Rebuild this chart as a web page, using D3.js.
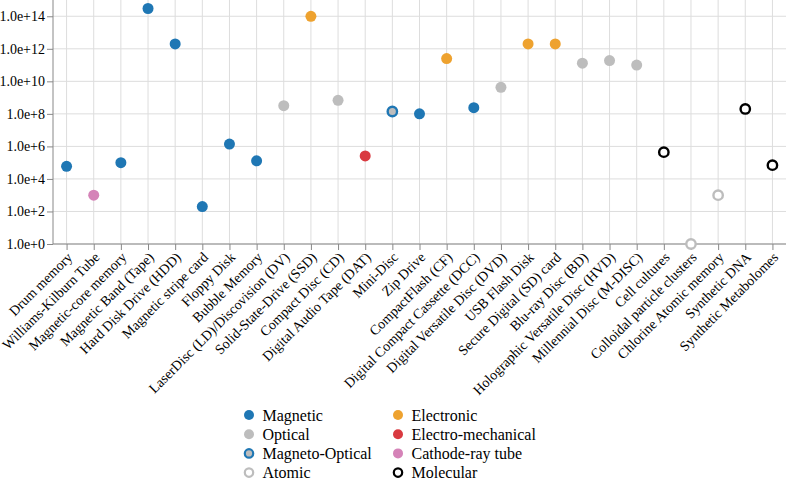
<!DOCTYPE html>
<html><head><meta charset="utf-8">
<script src="https://cdn.jsdelivr.net/npm/d3@7"></script>
<style>
html,body{margin:0;padding:0;background:#fff;}
svg{display:block;}
svg text{font-family:"Liberation Serif","Times New Roman",Times,serif;}
</style></head>
<body><svg id="chart" width="787" height="481"></svg>
<script>
const categories = ["Drum memory","Williams-Kilburn Tube","Magnetic-core memory","Magnetic Band (Tape)","Hard Disk Drive (HDD)","Magnetic stripe card","Floppy Disk","Bubble Memory","LaserDisc (LD)/Discovision (DV)","Solid-State-Drive (SSD)","Compact Disc (CD)","Digital Audio Tape (DAT)","Mini-Disc","Zip Drive","CompactFlash (CF)","Digital Compact Cassette (DCC)","Digital Versatile Disc (DVD)","USB Flash Disk","Secure Digital (SD) card","Blu-ray Disc (BD)","Holographic Versatile Disc (HVD)","Millennial Disc (M-DISC)","Cell cultures","Colloidal particle clusters","Chlorine Atomic memory","Synthetic DNA","Synthetic Metabolomes"];
const types = ["Magnetic","Cathode-ray tube","Magnetic","Magnetic","Magnetic","Magnetic","Magnetic","Magnetic","Optical","Electronic","Optical","Electro-mechanical","Magneto-Optical","Magnetic","Electronic","Magnetic","Optical","Electronic","Electronic","Optical","Optical","Optical","Molecular","Atomic","Atomic","Molecular","Molecular"];
const values = [6e4,1e3,1e5,3e14,2e12,200,1.4e6,1.3e5,3.2e8,1e14,6.8e8,2.6e5,1.4e8,1e8,2.5e11,2.4e8,4.3e9,2e12,2e12,1.3e11,1.9e11,1e11,4.4e5,1,1e3,2e8,7e4];
const yTicks = [1,1e2,1e4,1e6,1e8,1e10,1e12,1e14];
const legendOrder = ["Magnetic","Optical","Magneto-Optical","Atomic","Electronic","Electro-mechanical","Cathode-ray tube","Molecular"];
const fillColors = {"Magnetic":"#1f77b4","Optical":"#bdbdbd","Magneto-Optical":"#bdbdbd","Atomic":"#ffffff","Electronic":"#eea22f","Electro-mechanical":"#d93a40","Cathode-ray tube":"#d583b8","Molecular":"#ffffff"};
const strokeColors = {"Magneto-Optical":"#1f77b4","Atomic":"#bdbdbd","Molecular":"#000000"};

const FONT = '"Liberation Serif","Times New Roman",Times,serif';
const svg = d3.select("#chart");
const plotLeft = 53, plotTop = 0, plotBottom = 244, plotRight = 786;
const x = d3.scalePoint().domain(categories).range([plotLeft, plotRight]).padding(0.5);
const y = d3.scaleLog().domain([1, 1e15]).range([plotBottom, plotTop]);

const g = svg.append("g");
g.selectAll(".vg").data(categories).join("line")
  .attr("x1", d => x(d)).attr("x2", d => x(d)).attr("y1", plotTop).attr("y2", plotBottom)
  .attr("stroke", "#ddd").attr("stroke-width", 1);
g.selectAll(".hg").data(yTicks).join("line")
  .attr("x1", plotLeft).attr("x2", plotRight).attr("y1", d => y(d)).attr("y2", d => y(d))
  .attr("stroke", "#ddd").attr("stroke-width", 1);

const yAxis = d3.axisLeft(y).tickValues(yTicks).tickSize(6).tickPadding(2)
  .tickFormat(d3.format(".1e"));
const ya = svg.append("g").attr("transform", `translate(${plotLeft},0)`).call(yAxis)
  .attr("font-family", FONT).attr("font-size", 14);
ya.selectAll("text").attr("fill", "#000");
ya.selectAll("line,path").attr("stroke", "#888");
ya.select(".domain").attr("d", `M0,${plotTop}V${plotBottom}`);

const xAxis = d3.axisBottom(x).tickSize(6).tickPadding(2);
const xa = svg.append("g").attr("transform", `translate(0,${plotBottom})`).call(xAxis)
  .attr("font-family", FONT).attr("font-size", 14);
xa.selectAll("line,path").attr("stroke", "#888");
xa.select(".domain").attr("d", `M${plotLeft},0H${plotRight}`);
xa.selectAll("text").attr("fill", "#000")
  .attr("text-anchor", "end").attr("y", 0).attr("dy", "0.32em")
  .attr("transform", "translate(3,11) rotate(-45)");

const data = categories.map((c, i) => ({c, t: types[i], v: values[i]}));
svg.append("g").selectAll("circle").data(data).join("circle")
  .attr("cx", d => x(d.c)).attr("cy", d => y(d.v))
  .attr("r", d => strokeColors[d.t] ? 4.7 : 5.5)
  .attr("fill", d => fillColors[d.t])
  .attr("stroke", d => strokeColors[d.t] || "none")
  .attr("stroke-width", d => strokeColors[d.t] ? 2.4 : 0);

const lg = svg.append("g").attr("font-family", FONT).attr("font-size", 16);
legendOrder.forEach((t, i) => {
  const col = Math.floor(i / 4), row = i % 4;
  const lx = 249 + col * 149, ly = 415 + row * 19.2;
  lg.append("circle").attr("cx", lx).attr("cy", ly)
    .attr("r", strokeColors[t] ? 4.2 : 5)
    .attr("fill", fillColors[t]).attr("stroke", strokeColors[t] || "none")
    .attr("stroke-width", strokeColors[t] ? 2.2 : 0);
  lg.append("text").attr("x", lx + 13.5).attr("y", ly).attr("dy", "0.35em")
    .attr("fill", "#000").text(t);
});
</script></body></html>
